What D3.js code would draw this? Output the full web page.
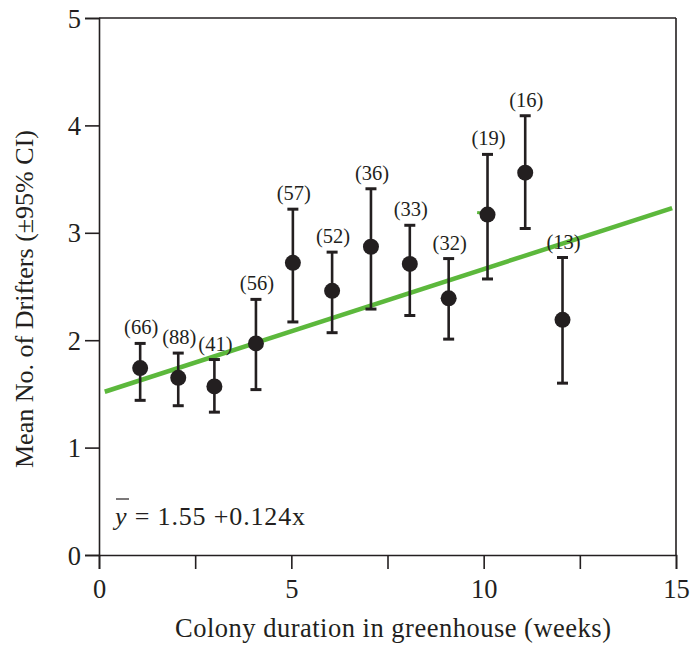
<!DOCTYPE html>
<html>
<head>
<meta charset="utf-8">
<script src="https://cdn.jsdelivr.net/npm/d3@7"></script>
<style>
  html, body { margin: 0; padding: 0; background: #fff; }
  svg { display: block; }
  text { font-family: "Liberation Serif", "Times New Roman", serif; fill: #231f20; }
</style>
</head>
<body>
<svg id="chart" width="690" height="646"></svg>
<script>
// ---- data ----
const weeks   = [1.07, 2.06, 3.0, 4.08, 5.04, 6.06, 7.07, 8.08, 9.09, 10.1, 11.08, 12.05];
const means   = [1.74, 1.65, 1.57, 1.97, 2.72, 2.46, 2.87, 2.71, 2.39, 3.17, 3.56, 2.19];
const ciLow   = [1.44, 1.39, 1.33, 1.54, 2.17, 2.07, 2.29, 2.23, 2.01, 2.57, 3.04, 1.60];
const ciHigh  = [1.97, 1.88, 1.82, 2.38, 3.22, 2.82, 3.41, 3.07, 2.76, 3.73, 4.09, 2.77];
const nLabels = ["(66)", "(88)", "(41)", "(56)", "(57)", "(52)", "(36)", "(33)", "(32)", "(19)", "(16)", "(13)"];
const fitX    = [0.15, 14.9];
const fitY    = [1.52, 3.23];
const fragX   = [9.83, 10.27];
const fragY   = [3.19, 3.17];
const xTicks  = [0, 2.5, 5, 7.5, 10, 12.5, 15];
const xTickLabels = [0, 5, 10, 15];
const yTicks  = [0, 1, 2, 3, 4, 5];
const xTitle  = "Colony duration in greenhouse (weeks)";
const yTitle  = "Mean No. of Drifters (±95% CI)";
const eqVar   = "y";
const eqRest  = " = 1.55 +0.124x";

// ---- layout ----
const svg = d3.select("#chart");
const ink = "#231f20";
const green = "#5cb83c";
const x = d3.scaleLinear().domain([0, 15]).range([99, 676]);
const y = d3.scaleLinear().domain([0, 5]).range([555, 18]);

// frame (top and right)
svg.append("line").attr("x1", x(0)).attr("x2", x(15)).attr("y1", y(5)).attr("y2", y(5))
  .attr("stroke", ink).attr("stroke-width", 1.6);
svg.append("line").attr("x1", x(15)).attr("x2", x(15)).attr("y1", y(5)).attr("y2", y(0))
  .attr("stroke", ink).attr("stroke-width", 1.6);

// x axis
const xAxis = d3.axisBottom(x).tickValues(xTicks).tickSize(14)
  .tickFormat(d => xTickLabels.includes(d) ? d : "");
const gx = svg.append("g").attr("transform", `translate(0,${y(0)})`).call(xAxis);
gx.select(".domain").attr("stroke", ink).attr("stroke-width", 1.6);
gx.selectAll(".tick line").attr("stroke", ink).attr("stroke-width", 1.6);
gx.selectAll(".tick text").attr("font-size", 26.5).attr("font-family", "Liberation Serif")
  .attr("fill", ink).attr("dy", 0).attr("y", 43);

// y axis
const yAxis = d3.axisLeft(y).tickValues(yTicks).tickSize(14).tickFormat(d3.format("d"));
const gy = svg.append("g").attr("transform", `translate(${x(0)},0)`).call(yAxis);
gy.select(".domain").attr("stroke", ink).attr("stroke-width", 1.6);
gy.selectAll(".tick line").attr("stroke", ink).attr("stroke-width", 1.6);
gy.selectAll(".tick text").attr("font-size", 26.5).attr("font-family", "Liberation Serif")
  .attr("fill", ink).attr("x", -18).attr("dy", "0.34em");

// regression line
const lineGen = d3.line().x(d => x(d[0])).y(d => y(d[1]));
svg.append("path").datum(d3.zip(fitX, fitY)).attr("d", lineGen)
  .attr("stroke", green).attr("stroke-width", 4.5).attr("fill", "none");
svg.append("path").datum(d3.zip(fragX, fragY)).attr("d", lineGen)
  .attr("stroke", green).attr("stroke-width", 3).attr("fill", "none");

// error bars and points
const pts = weeks.map((w, i) => ({w, m: means[i], lo: ciLow[i], hi: ciHigh[i], lab: nLabels[i]}));
const g = svg.append("g");
g.selectAll(".bar").data(pts).join("line")
  .attr("x1", d => x(d.w)).attr("x2", d => x(d.w))
  .attr("y1", d => y(d.lo)).attr("y2", d => y(d.hi))
  .attr("stroke", ink).attr("stroke-width", 2.6);
g.selectAll(".capTop").data(pts).join("line")
  .attr("x1", d => x(d.w) - 5.5).attr("x2", d => x(d.w) + 5.5)
  .attr("y1", d => y(d.hi)).attr("y2", d => y(d.hi))
  .attr("stroke", ink).attr("stroke-width", 3);
g.selectAll(".capBot").data(pts).join("line")
  .attr("x1", d => x(d.w) - 5.5).attr("x2", d => x(d.w) + 5.5)
  .attr("y1", d => y(d.lo)).attr("y2", d => y(d.lo))
  .attr("stroke", ink).attr("stroke-width", 3);
g.selectAll("circle").data(pts).join("circle")
  .attr("cx", d => x(d.w)).attr("cy", d => y(d.m)).attr("r", 8)
  .attr("fill", ink);
g.selectAll(".nlab").data(pts).join("text")
  .attr("x", d => x(d.w) + 1).attr("y", d => y(d.hi) - 9)
  .attr("text-anchor", "middle").attr("font-size", 20.5).text(d => d.lab);

// equation
const eq = svg.append("text").attr("x", 115).attr("y", 525).attr("font-size", 26)
  .attr("textLength", 190).attr("lengthAdjust", "spacing");
eq.append("tspan").attr("font-style", "italic").text(eqVar);
eq.append("tspan").text(eqRest);
svg.append("line").attr("x1", 116).attr("x2", 129).attr("y1", 499).attr("y2", 499)
  .attr("stroke", ink).attr("stroke-width", 1.2);

// axis titles
svg.append("text").attr("x", 175).attr("y", 637)
  .attr("font-size", 26.5).attr("textLength", 436).attr("lengthAdjust", "spacing").text(xTitle);
svg.append("text").attr("transform", `translate(33,468) rotate(-90)`)
  .attr("font-size", 26).attr("textLength", 338).attr("lengthAdjust", "spacing").text(yTitle);
</script>
</body>
</html>
